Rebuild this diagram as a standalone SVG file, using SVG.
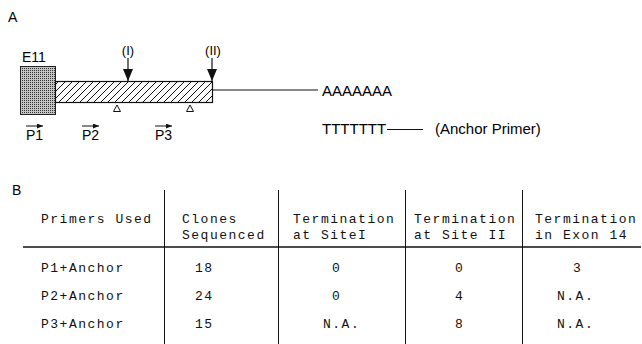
<svg xmlns="http://www.w3.org/2000/svg" width="642" height="344" viewBox="0 0 642 344">
<style>
.sans{font-family:"Liberation Sans",Arial,sans-serif;fill:#000;}
.mono{font-family:"Liberation Mono","Courier New",monospace;font-size:13px;letter-spacing:1.5px;fill:#111;}
.ln{stroke:#111;fill:none;}
</style>
<defs>
<pattern id="stip" patternUnits="userSpaceOnUse" width="2" height="2">
<rect width="2" height="2" fill="#c4c4c4"/>
<rect width="1" height="1" fill="#333"/>
</pattern>
<pattern id="hatch" patternUnits="userSpaceOnUse" width="7" height="7">
<rect width="7" height="7" fill="#fff"/>
<path d="M-1,8 L8,-1 M-1,1 L1,-1 M6,8 L8,6" stroke="#111" stroke-width="1"/>
</pattern>
<marker id="big" markerWidth="12" markerHeight="10" refX="12" refY="5" orient="auto" markerUnits="userSpaceOnUse" viewBox="0 0 12 10">
<path d="M0,0 L12,5 L0,10 Z" fill="#111"/>
</marker>
<marker id="small" markerWidth="6" markerHeight="5" refX="6" refY="2.5" orient="auto" markerUnits="userSpaceOnUse" viewBox="0 0 6 5">
<path d="M0,0 L6,2.5 L0,5 Z" fill="#111"/>
</marker>
</defs>
<rect width="642" height="344" fill="#fff"/>

<text class="sans" x="8" y="22" font-size="14">A</text>

<g id="exon11">
<rect x="20.5" y="66.5" width="35" height="48" fill="url(#stip)" stroke="#222" stroke-width="1"/>
<text class="sans" x="22" y="62" font-size="14">E11</text>
</g>

<g id="intron">
<rect x="55.5" y="81.5" width="157" height="21" fill="url(#hatch)" stroke="#111" stroke-width="1.2"/>
<polygon points="117,105 120.5,111.5 113.5,111.5" fill="none" stroke="#111" stroke-width="1"/>
<polygon points="190,105 193.5,111.5 186.5,111.5" fill="none" stroke="#111" stroke-width="1"/>
</g>

<g id="polyA">
<text class="sans" x="322" y="96" font-size="15">AAAAAAA</text>
</g>

<g id="anchor">
<text class="sans" x="322" y="134" font-size="15">TTTTTTT</text>
<line class="ln" x1="387" y1="129.5" x2="423" y2="129.5" stroke-width="1"/>
<text class="sans" x="435" y="134" font-size="15">(Anchor Primer)</text>
</g>

<g id="site1">
<text class="sans" x="128" y="55" font-size="13" text-anchor="middle">(I)</text>
</g>
<g id="site2">
<text class="sans" x="213" y="55" font-size="13" text-anchor="middle">(II)</text>
</g>

<g id="p1"><text class="sans" x="26" y="140" font-size="14">P1</text></g>
<g id="p2"><text class="sans" x="82" y="140" font-size="14">P2</text></g>
<g id="p3"><text class="sans" x="155" y="140" font-size="14">P3</text></g>

<g id="connectors">
<line class="ln" x1="128" y1="58" x2="128" y2="81" stroke-width="1.2" marker-end="url(#big)"/>
<line class="ln" x1="212" y1="58" x2="212" y2="81" stroke-width="1.2" marker-end="url(#big)"/>
<line class="ln" x1="212" y1="90" x2="318" y2="90" stroke-width="1.2"/>
<line class="ln" x1="26" y1="126" x2="43" y2="126" stroke-width="1" marker-end="url(#small)"/>
<line class="ln" x1="82" y1="126" x2="99" y2="126" stroke-width="1" marker-end="url(#small)"/>
<line class="ln" x1="155" y1="126" x2="172" y2="126" stroke-width="1" marker-end="url(#small)"/>
</g>

<text class="sans" x="12" y="195" font-size="14">B</text>

<g id="table">
<line class="ln" x1="23" y1="247" x2="641" y2="247" stroke-width="1.5"/>
<line class="ln" x1="164.5" y1="190" x2="164.5" y2="344" stroke-width="1"/>
<line class="ln" x1="278.5" y1="190" x2="278.5" y2="344" stroke-width="1"/>
<line class="ln" x1="405.5" y1="190" x2="405.5" y2="344" stroke-width="1"/>
<line class="ln" x1="522.5" y1="190" x2="522.5" y2="344" stroke-width="1"/>

<text class="mono" x="41" y="223">Primers Used</text>
<text class="mono" x="182" y="223">Clones</text>
<text class="mono" x="182" y="239">Sequenced</text>
<text class="mono" x="293" y="223">Termination</text>
<text class="mono" x="293" y="239">at SiteI</text>
<text class="mono" x="414" y="223">Termination</text>
<text class="mono" x="414" y="239">at Site II</text>
<text class="mono" x="535" y="223">Termination</text>
<text class="mono" x="535" y="239">in Exon 14</text>

<text class="mono" x="41" y="272">P1+Anchor</text>
<text class="mono" x="41" y="300">P2+Anchor</text>
<text class="mono" x="41" y="328">P3+Anchor</text>

<text class="mono" x="195" y="272">18</text>
<text class="mono" x="195" y="300">24</text>
<text class="mono" x="195" y="328">15</text>

<text class="mono" x="332" y="272">0</text>
<text class="mono" x="332" y="300">0</text>
<text class="mono" x="323" y="328">N.A.</text>

<text class="mono" x="455" y="272">0</text>
<text class="mono" x="455" y="300">4</text>
<text class="mono" x="455" y="328">8</text>

<text class="mono" x="573" y="272">3</text>
<text class="mono" x="557" y="300">N.A.</text>
<text class="mono" x="557" y="328">N.A.</text>
</g>
</svg>
